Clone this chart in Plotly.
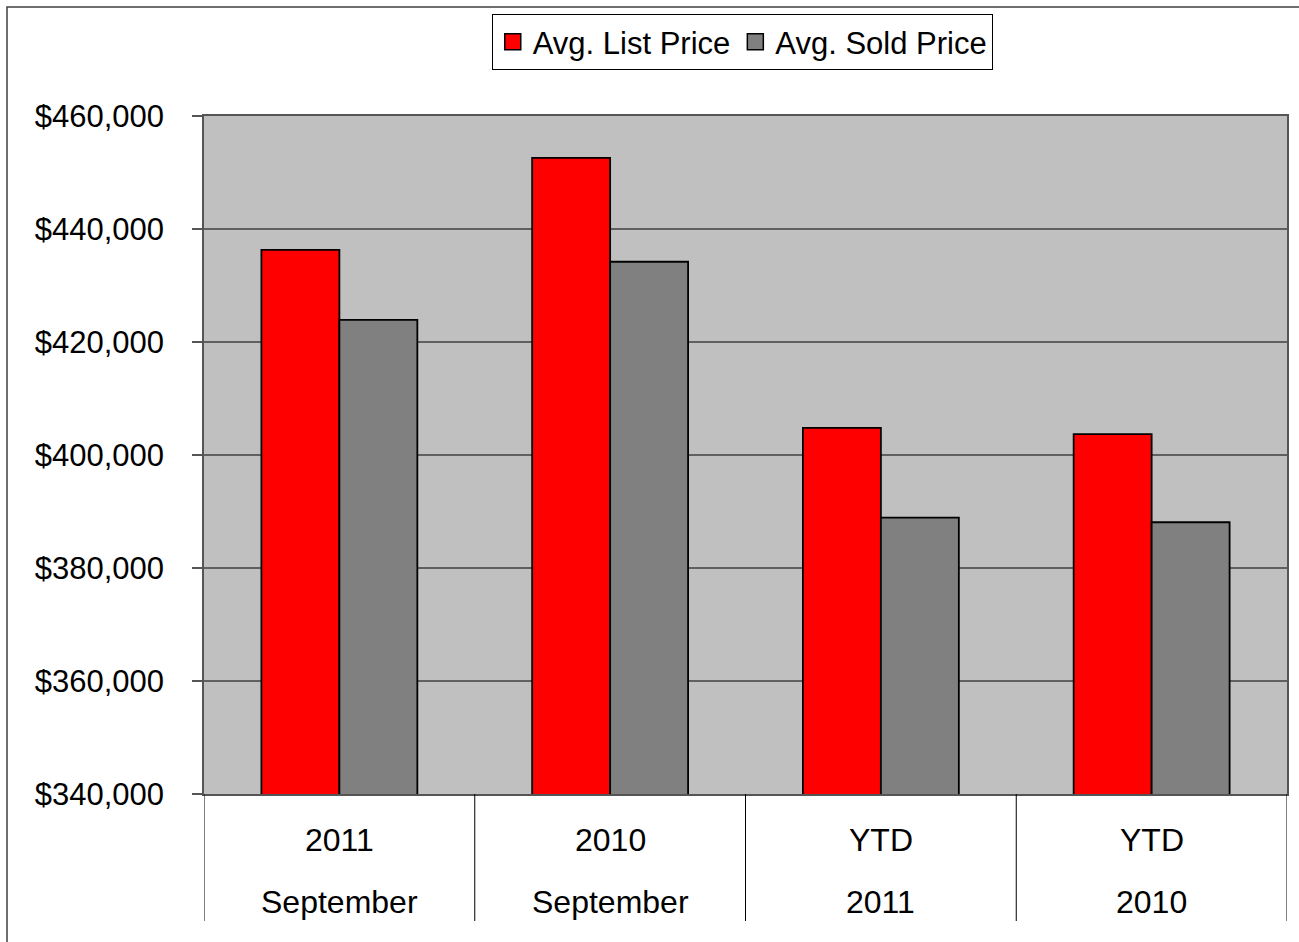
import plotly.graph_objects as go

categories = ["2011 September", "2010 September", "YTD 2011", "YTD 2010"]
label_top = ["2011", "2010", "YTD", "YTD"]
label_bottom = ["September", "September", "2011", "2010"]
list_price = [436300, 452600, 404800, 403700]
sold_price = [423900, 434200, 388900, 388100]
y_ticks = [340000, 360000, 380000, 400000, 420000, 440000, 460000]

FONT = "Liberation Sans, Arial, sans-serif"
W, H = 1299, 942
L, R, T, B = 204, 12, 116, 148
pw, ph = W - L - R, H - T - B

def py(ypx):
    return 1 - (ypx - T) / ph

def px(xpx):
    return (xpx - L) / pw

fig = go.Figure()
fig.add_trace(go.Bar(x=categories, y=list_price, name="Avg. List Price", showlegend=False,
                     marker=dict(color="#FF0000", line=dict(color="black", width=1.8))))
fig.add_trace(go.Bar(x=categories, y=sold_price, name="Avg. Sold Price", showlegend=False,
                     marker=dict(color="#808080", line=dict(color="black", width=1.8))))
# legend entries with larger square swatches
fig.add_trace(go.Scatter(x=[None], y=[None], mode="markers", name="Avg. List Price",
                         marker=dict(symbol="square", size=16, color="#FF0000",
                                     line=dict(color="black", width=1.5))))
fig.add_trace(go.Scatter(x=[None], y=[None], mode="markers", name="Avg. Sold Price",
                         marker=dict(symbol="square", size=16, color="#808080",
                                     line=dict(color="black", width=1.5))))

shapes = []
for i in range(len(categories) + 1):
    shapes.append(dict(type="line", xref="x", yref="paper", x0=i - 0.5, x1=i - 0.5,
                       y0=0, y1=py(921), line=dict(color="black", width=1)))
shapes.append(dict(type="rect", xref="paper", yref="paper", x0=px(7), x1=px(1320),
                   y0=py(960), y1=py(7), line=dict(color="#404040", width=1.5),
                   fillcolor="rgba(0,0,0,0)", layer="below"))

annotations = []
for i, (t, b) in enumerate(zip(label_top, label_bottom)):
    annotations.append(dict(x=categories[i], y=py(840), xref="x", yref="paper", text=t,
                            showarrow=False, font=dict(family=FONT, size=32, color="black"),
                            yanchor="middle", xanchor="center"))
    annotations.append(dict(x=categories[i], y=py(902), xref="x", yref="paper", text=b,
                            showarrow=False, font=dict(family=FONT, size=32, color="black"),
                            yanchor="middle", xanchor="center"))

fig.update_layout(
    width=W, height=H,
    margin=dict(l=L, r=R, t=T, b=B, autoexpand=False),
    paper_bgcolor="white",
    plot_bgcolor="#C0C0C0",
    barmode="group",
    bargap=0.424,
    bargroupgap=0,
    font=dict(family=FONT, size=31, color="black"),
    showlegend=True,
    legend=dict(orientation="h", x=0.497, xanchor="center", y=py(14), yanchor="top",
                bgcolor="white", bordercolor="black", borderwidth=1,
                font=dict(family=FONT, size=31, color="black"),
                itemwidth=30, tracegroupgap=0),
    shapes=shapes,
    annotations=annotations,
    xaxis=dict(type="category", showticklabels=False, showgrid=False, ticks="",
               showline=True, linecolor="#555555", linewidth=2, mirror=True,
               range=[-0.5, 3.5], fixedrange=True),
    yaxis=dict(range=[340000, 460000], tickvals=y_ticks, tickformat="$,.0f",
               showgrid=True, gridcolor="#606060", gridwidth=1.5,
               showline=True, linecolor="#555555", linewidth=1.5, mirror=True,
               ticks="outside", ticklen=10, tickcolor="#555555", tickwidth=1.5,
               ticklabelstandoff=22,
               tickfont=dict(family=FONT, size=31, color="black"), zeroline=False),
)

fig.write_html("out.html", config={"displayModeBar": False},
               post_script="document.body.style.margin='0';document.body.style.overflow='hidden';")
